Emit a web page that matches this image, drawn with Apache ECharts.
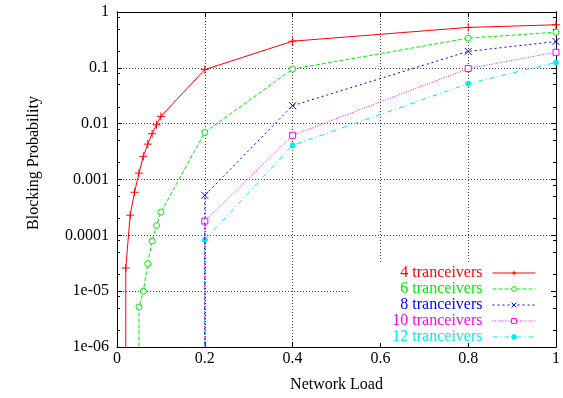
<!DOCTYPE html>
<html><head><meta charset="utf-8">
<script src="https://cdn.jsdelivr.net/npm/echarts@6/dist/echarts.min.js"></script>
<style>html,body{margin:0;padding:0;background:#fff}#c{width:563px;height:398px}</style>
</head><body><div id="c"></div>
<script>
// ---- data ----
const seriesNames = ['4 tranceivers', '6 tranceivers', '8 tranceivers', '10 tranceivers', '12 tranceivers'];
const loads4 = [0.02, 0.03, 0.04, 0.05, 0.06, 0.07, 0.08, 0.09, 0.1, 0.2, 0.4, 0.8, 1.0];
const block4 = [2.6e-5, 2.3e-4, 5.9e-4, 1.3e-3, 2.6e-3, 4.3e-3, 6.6e-3, 9.6e-3, 1.35e-2, 0.093, 0.30, 0.53, 0.59];
const loads6 = [0.05, 0.06, 0.07, 0.08, 0.09, 0.1, 0.2, 0.4, 0.8, 1.0];
const block6 = [5.2e-6, 1.0e-5, 3.1e-5, 7.9e-5, 1.5e-4, 2.6e-4, 0.0070, 0.095, 0.34, 0.435];
const loads8 = [0.2, 0.4, 0.8, 1.0];
const block8 = [5.2e-4, 0.021, 0.197, 0.296];
const loads10 = [0.2, 0.4, 0.8, 1.0];
const block10 = [1.8e-4, 0.0062, 0.097, 0.19];
const loads12 = [0.2, 0.4, 0.8, 1.0];
const block12 = [8.3e-5, 0.0041, 0.052, 0.125];
// below-range value: each curve drops off the bottom of the log scale at its first load
const belowRange = 1e-9;
const xTickLabels = ['0', '0.2', '0.4', '0.6', '0.8', '1'];
const yTickLabels = ['1e-06', '1e-05', '0.0001', '0.001', '0.01', '0.1', '1'];
const yMajor = [1e-6, 1e-5, 1e-4, 1e-3, 1e-2, 1e-1, 1];
const minorMantissas = [2, 5, 8];

// ---- styling ----
const FONT = '"Liberation Serif", "DejaVu Serif", serif';
const colors = ['#ff0000', '#00ee00', '#0000ff', '#ff00ff', '#00eeee'];
const yMinor = [];
for (let i = 0; i < yMajor.length - 1; i++) {
  minorMantissas.forEach(m => yMinor.push(yMajor[i] * m));
}
function pairs(xs, ys) {
  const out = [[xs[0], belowRange]];
  xs.forEach((x, i) => out.push([x, ys[i]]));
  return out;
}
const crossPath = 'path://M5,0L5,10M0,5L10,5';
const xPath = 'path://M0,0L10,10M0,10L10,0';

const axisLine = { show: true, onZero: false, lineStyle: { color: '#000', width: 1 } };
const labelStyle = { fontFamily: FONT, fontSize: 16, color: '#000' };
const gridLine = { show: true, lineStyle: { color: '#444', width: 1, type: [1, 2] } };

function yAx(pos, major, labels) {
  return {
    type: 'log', logBase: 10, min: 1e-6, max: 1, position: pos, interval: 1,
    axisLine: axisLine,
    axisTick: { show: true, inside: true, length: major ? 5 : 3, customValues: major ? yMajor : yMinor, lineStyle: { color: '#000', width: 1 } },
    axisLabel: labels ? {
      show: true, ...labelStyle, margin: 8, customValues: yMajor,
      formatter: v => yTickLabels[Math.round(Math.log10(v)) + 6]
    } : { show: false },
    splitLine: (labels ? gridLine : { show: false })
  };
}
function xAx(pos, main) {
  return {
    type: 'value', min: 0, max: 1, interval: 0.2, position: pos,
    axisLine: axisLine,
    axisTick: { show: true, inside: true, length: 5, lineStyle: { color: '#000', width: 1 } },
    axisLabel: main ? { show: true, ...labelStyle, margin: 4, formatter: (v) => xTickLabels[Math.round(v / 0.2)] } : { show: false },
    splitLine: main ? gridLine : { show: false },
    name: main ? 'Network Load' : '', nameLocation: 'middle', nameGap: 30,
    nameTextStyle: { fontFamily: FONT, fontSize: 16, color: '#000' }
  };
}

const symbols = [crossPath, 'circle', xPath, 'rect', 'circle'];
const symbolSizes = [8, 6, 7, 6, 5];
const symbolFill = [colors[0], '#ffffff', colors[2], '#ffffff', colors[4]];
const dashes = ['solid', [4, 2], [2, 3], [1, 1.5], [5, 3, 1, 3]];
const dataSets = [pairs(loads4, block4), pairs(loads6, block6), pairs(loads8, block8), pairs(loads10, block10), pairs(loads12, block12)];

const series = seriesNames.map((n, i) => ({
  type: 'line', name: n, xAxisIndex: 0, yAxisIndex: 0,
  data: dataSets[i], symbol: symbols[i], symbolSize: symbolSizes[i], showAllSymbol: true,
  clip: true, animation: false, z: 3 + (seriesNames.length - i),
  lineStyle: { color: colors[i], width: 1, type: dashes[i] },
  itemStyle: { color: symbolFill[i], borderColor: colors[i], borderWidth: 1 },
  emphasis: { disabled: true }
}));

const chart = echarts.init(document.getElementById('c'), null, { renderer: 'canvas' });
chart.setOption({
  animation: false,
  backgroundColor: '#fff',
  grid: { left: 117, right: 7, top: 12, bottom: 49, containLabel: false },
  xAxis: [xAx('bottom', true), xAx('top', false)],
  yAxis: [yAx('left', true, true), yAx('right', true, false), yAx('left', false, false), yAx('right', false, false)],
  legend: {
    orient: 'vertical', right: 27, top: 265, padding: 0, itemGap: 0,
    itemWidth: 43, itemHeight: 6, align: 'right', selectedMode: false,
    lineStyle: { width: 1 },
    itemStyle: { borderWidth: 1 },
    textStyle: { fontFamily: FONT, fontSize: 16, lineHeight: 16, padding: [0, 5, 0, 0] },
    data: seriesNames.map((n, i) => ({ name: n, textStyle: { color: colors[i] } }))
  },
  graphic: [
    { type: 'rect', z: 1, silent: true, shape: { x: 350, y: 262, width: 200, height: 81 }, style: { fill: '#fff' } },
    { type: 'text', x: 34, y: 163, rotation: Math.PI / 2, silent: true,
      style: { text: 'Blocking Probability', fontFamily: FONT, fontSize: 16, fill: '#000', align: 'center', verticalAlign: 'middle' } }
  ],
  series: series
});
</script>
</body></html>
